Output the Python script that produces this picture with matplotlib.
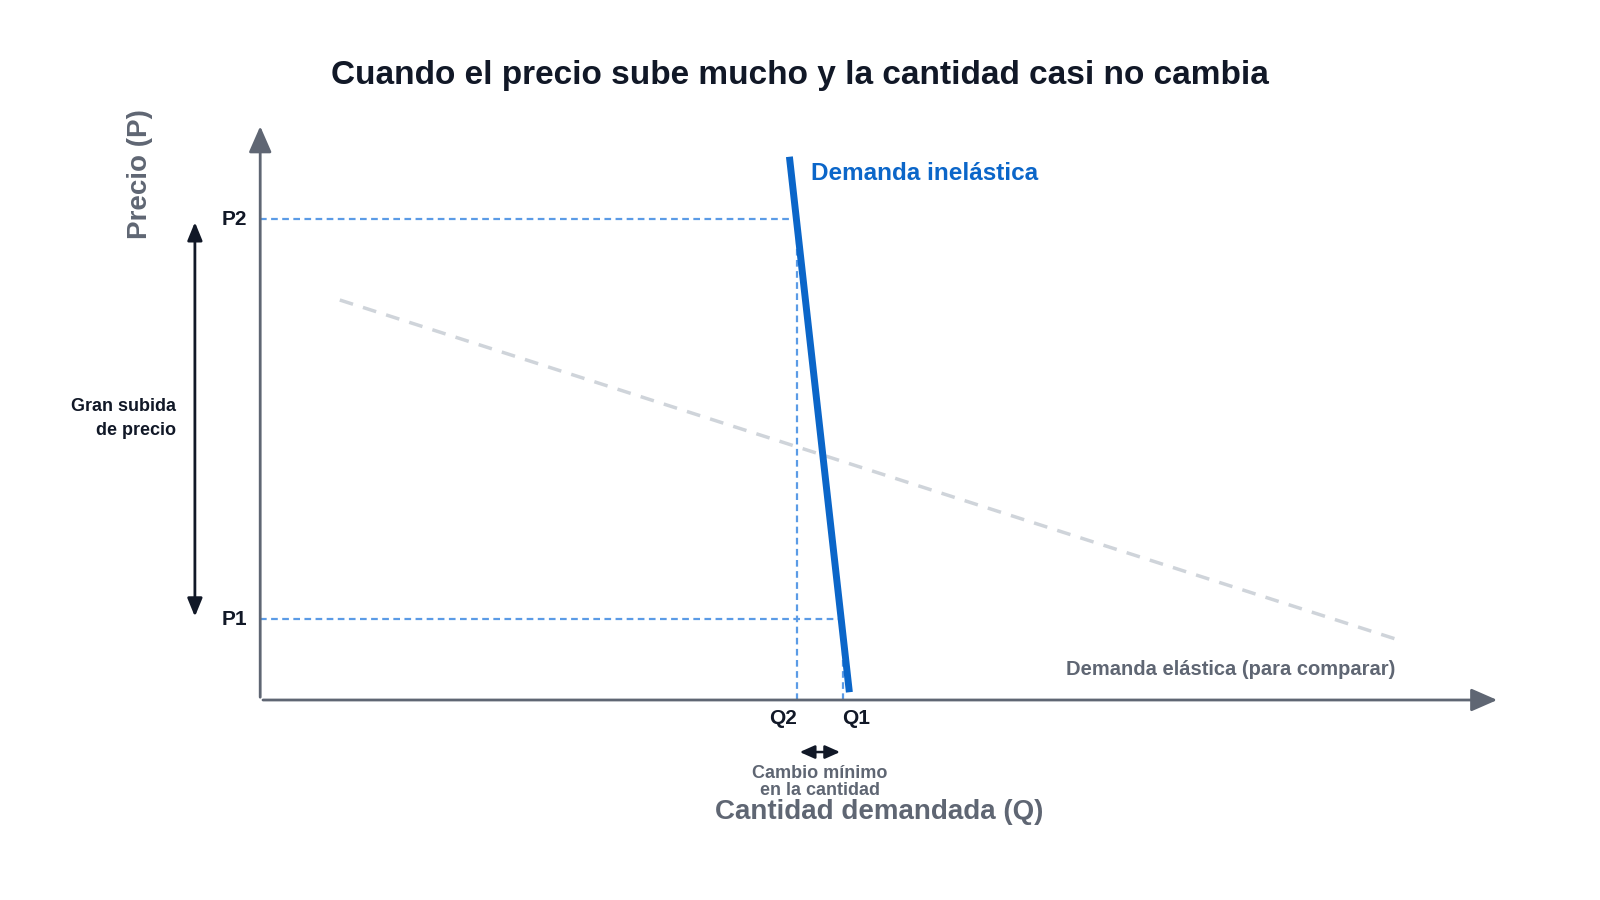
import matplotlib.pyplot as plt

# units: 1 unit = 10 px of the reference (as displayed), origin at axes corner
inel_q = [51.9, 57.7]
inel_p = [52.9, 1.1]
elas_q = [7.8, 111.2]
elas_p = [39.2, 6.0]
q1, q2 = 57.1, 52.6
p1, p2 = 7.9, 47.1

plt.rcParams['font.family'] = ['Liberation Sans', 'DejaVu Sans']
fig = plt.figure(figsize=(16, 9), dpi=100)
ax = fig.add_axes([0, 0, 1, 1])
ax.set_xlim(-25.5, 131.3)
ax.set_ylim(-19.6, 68.6)
ax.axis('off')

axc = '#5f6673'
# axes with arrows
ax.annotate('', xy=(121.5, 0), xytext=(0, 0),
            arrowprops=dict(arrowstyle='-|>,head_length=1.6,head_width=0.7', color=axc, lw=2))
ax.annotate('', xy=(0, 56.5), xytext=(0, 0),
            arrowprops=dict(arrowstyle='-|>,head_length=1.6,head_width=0.7', color=axc, lw=2))

ax.plot(elas_q, elas_p, color='#cfd4da', lw=2.5, ls=(0, (4, 3)))
ref = '#5b9be6'
ax.plot([0, q2], [p2, p2], color=ref, lw=1.6, ls=(0, (3, 2)))
ax.plot([0, q1], [p1, p1], color=ref, lw=1.6, ls=(0, (3, 2)))
ax.plot([q2, q2], [0, p2], color=ref, lw=1.6, ls=(0, (3, 2)))
ax.plot([q1, q1], [0, p1], color=ref, lw=1.6, ls=(0, (3, 2)))
ax.plot(inel_q, inel_p, color='#0b66c9', lw=5)

ax.text(54, 51.6, 'Demanda inelástica', color='#0b66c9', fontsize=17.5, fontweight='bold', va='center')
ax.text(111.2, 3.0, 'Demanda elástica (para comparar)', color=axc, fontsize=14.5,
        fontweight='bold', ha='right', va='center')

ax.text(-1.3, p2, 'P2', fontsize=15, fontweight='bold', ha='right', va='center', color='#111827')
ax.text(-1.3, p1, 'P1', fontsize=15, fontweight='bold', ha='right', va='center', color='#111827')
ax.text(q2 - 1.4, -1.8, 'Q2', fontsize=15, fontweight='bold', ha='center', va='center', color='#111827')
ax.text(q1 + 1.3, -1.8, 'Q1', fontsize=15, fontweight='bold', ha='center', va='center', color='#111827')

# big price arrow
ax.annotate('', xy=(-6.4, p1), xytext=(-6.4, p2),
            arrowprops=dict(arrowstyle='<|-|>,head_length=1.1,head_width=0.45', color='#111827', lw=2))
ax.text(-8.3, 27.6, 'Gran subida\nde precio', fontsize=13, fontweight='bold', ha='right',
        va='center', color='#111827', linespacing=1.5)

# small quantity arrow
ax.annotate('', xy=(q1, -5.1), xytext=(q2, -5.1),
            arrowprops=dict(arrowstyle='<|-|>,head_length=0.9,head_width=0.4', color='#111827', lw=1.8))
ax.text((q1 + q2) / 2, -8.0, 'Cambio mínimo\nen la cantidad', fontsize=13, fontweight='bold',
        ha='center', va='center', color=axc, linespacing=1.0)

ax.text(60.7, -11.0, 'Cantidad demandada (Q)', fontsize=20, fontweight='bold', ha='center',
        va='center', color=axc)
ax.text(-11.8, 51.5, 'Precio (P)', fontsize=20, fontweight='bold', ha='center', va='center',
        color=axc, rotation=90)
ax.text(52.9, 61.2, 'Cuando el precio sube mucho y la cantidad casi no cambia', fontsize=24,
        fontweight='bold', ha='center', va='center', color='#111827')

fig.savefig('out.png', dpi=100)
